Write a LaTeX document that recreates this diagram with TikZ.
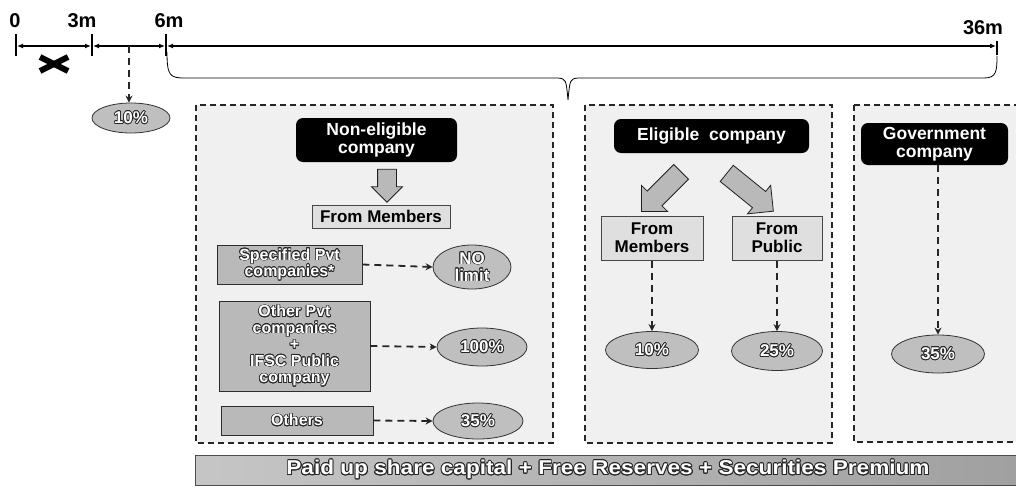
\documentclass[tikz,border=0pt]{standalone}
\usepackage{fontspec}
\setmainfont{Liberation Sans}
\newfontfamily\widesans[FakeStretch=1.13]{Liberation Sans}
\usepackage[copies]{contour}
\contourlength{0.7pt}
\usetikzlibrary{shapes.geometric,shapes.arrows,arrows.meta,calc}
% white lettering with a dark outline
\newcommand{\otx}[1]{\contour{black!85}{#1}}
\begin{document}
\begin{tikzpicture}[x=1pt,y=-1pt,
  lbl/.style={font=\bfseries\fontsize{20}{20}\selectfont, inner sep=0pt},
  panel/.style={draw=black!85, dash pattern=on 6pt off 4pt, line width=1.3pt, fill=gray!12},
  blackbox/.style={fill=black, rounded corners=7pt, text=white, align=center, inner sep=0pt,
    font=\bfseries\fontsize{17.5}{18}\selectfont},
  membox/.style={draw=gray!55!black, line width=1pt, fill=gray!25, align=center, inner sep=0pt,
    font=\bfseries\fontsize{17}{18}\selectfont},
  darkbox/.style={fill=gray!55, draw=gray!35!black, line width=0.8pt, text=white, align=center,
    inner sep=0pt, font=\bfseries\fontsize{16}{16.5}\selectfont},
  pct/.style={ellipse, fill=gray!50, draw=black!80, line width=0.8pt, text=white, inner sep=0pt,
    align=center, font=\bfseries\fontsize{17}{17}\selectfont},
  dasharrow/.style={draw=black!85, dash pattern=on 7pt off 5pt, line width=1.8pt,
    -{Stealth[length=7pt,width=7pt]}},
  blockarrow/.style={single arrow, fill=gray!55, draw=gray!25!black, line width=0.8pt,
    single arrow head extend=6pt, inner sep=9pt},
  tick/.style={line width=1.6pt},
  span/.style={line width=1.3pt, {Latex[length=6pt,width=5pt]}-{Latex[length=6pt,width=5pt]}}
]
\useasboundingbox (0,0) rectangle (1016,487);
\fill[white] (0,0) rectangle (1016,487);

% ---------- time line ----------
\coordinate (t0) at (16,46);
\coordinate (t3) at (92,46);
\coordinate (t6) at (166,46);
\coordinate (t36) at (997,46);
\foreach \t in {t0,t3,t6} \draw[tick] (\t) ++(0,-12) -- ++(0,22);
\draw[tick] (t36) ++(0,-5) -- ++(0,14);
\draw[span] ($(t0)+(1,0)$) -- ($(t3)+(-1,0)$);
\draw[span] ($(t3)+(1,0)$) -- ($(t6)+(-1,0)$);
\draw[span] ($(t6)+(1,0)$) -- ($(t36)+(-1,0)$);
\node[lbl] (l0) at (15,21) {0};
\node[lbl] (l3) at (82,21) {3m};
\node[lbl] (l6) at (169,21) {6m};
\node[lbl] (l36) at (983,28) {36m};

% not permitted before 3 months
\draw[line width=6pt] (40,57) -- (68,71) (40,71) -- (68,57);

% 3 to 6 months
\coordinate (mid36) at (129,46);
\node[pct, minimum width=78pt, minimum height=30pt] (p0) at (131,118) {\otx{10\%}};
\draw[dasharrow, line width=1.4pt] (mid36) -- (mid36 |- p0.north);

% brace over 6 to 36 months
\draw[line width=0.8pt] (167,52) .. controls (167,76) and (170,78) .. (185,78)
  -- (558,78) .. controls (566,79) .. (568,100) .. controls (570,79) .. (578,78)
  -- (984,78) .. controls (996,78) and (997,72) .. (997,56);

% ---------- panels ----------
\draw[panel] (196,105) rectangle (553,443);
\draw[panel] (585,105) rectangle (832,443);
\draw[panel] (854,105) rectangle (1030,442);

% non-eligible company
\node[blackbox, minimum width=161pt, minimum height=44pt] (ne) at (376.5,140)
  {Non-eligible\\company};
\node[blockarrow, minimum height=33pt, rotate=-90] (da) at (387,181) {};
\node[membox, minimum width=138pt, minimum height=23pt] (fm1) at (381,216.5) {From Members};

\node[darkbox, minimum width=145pt, minimum height=39pt] (sp) at (289.5,264.5)
  {\otx{Specified Pvt}\\\otx{companies*}};
\node[pct, minimum width=78pt, minimum height=44pt] (nl) at (472,267) {\otx{NO}\\\otx{limit}};

\node[darkbox, minimum width=151pt, minimum height=90pt] (op) at (294.5,346)
  {\otx{Other Pvt}\\\otx{companies}\\\otx{+}\\\otx{IFSC Public}\\\otx{company}};
\node[pct, minimum width=90pt, minimum height=38pt] (p100) at (482,347) {\otx{100\%}};

\node[darkbox, minimum width=152pt, minimum height=29pt] (ot) at (297,420.5) {\otx{Others}};
\node[pct, minimum width=90pt, minimum height=36pt] (p35a) at (478,421) {\otx{35\%}};

\draw[dasharrow] (sp.east) -- (nl.west);
\draw[dasharrow] (op.east) -- (p100.west);
\draw[dasharrow] (ot.east) -- (p35a.west);

% eligible company
\node[blackbox, minimum width=195pt, minimum height=34pt] (el) at (711.5,136)
  {Eligible\ \ company};
\node[blockarrow, minimum height=56pt, inner sep=10pt, single arrow head extend=8pt,
  rotate=225] (la) at (665,188) {};
\node[blockarrow, minimum height=60pt, inner sep=10pt, single arrow head extend=8pt,
  rotate=-39] (ra) at (746,189) {};
\node[membox, minimum width=102pt, minimum height=44pt] (fm2) at (652,238) {From\\Members};
\node[membox, minimum width=90pt, minimum height=44pt] (fp) at (777,238) {From\\Public};
\node[pct, minimum width=93pt, minimum height=37pt] (p10) at (652,350) {\otx{10\%}};
\node[pct, minimum width=91pt, minimum height=39pt] (p25) at (777,351) {\otx{25\%}};
\draw[dasharrow] (fm2.south) -- (p10.north);
\draw[dasharrow] (fp.south) -- (p25.north);

% government company
\node[blackbox, minimum width=147pt, minimum height=42pt] (gov) at (934.5,144)
  {Government\\company};
\node[pct, minimum width=93pt, minimum height=38pt] (p35b) at (938,354) {\otx{35\%}};
\draw[dasharrow] (gov.south -| p35b.north) -- (p35b.north);

% ---------- base ----------
\shade[left color=gray!45, right color=gray!75, draw=black!70, line width=0.8pt]
  (195,455) rectangle (1030,485);
\node[text=white, font=\widesans\bfseries\fontsize{20}{20}\selectfont, inner sep=0pt] (base) at (608,470)
  {\contourlength{0.9pt}\contour{black!85}{Paid up share capital + Free Reserves + Securities Premium}};
\end{tikzpicture}
\end{document}
